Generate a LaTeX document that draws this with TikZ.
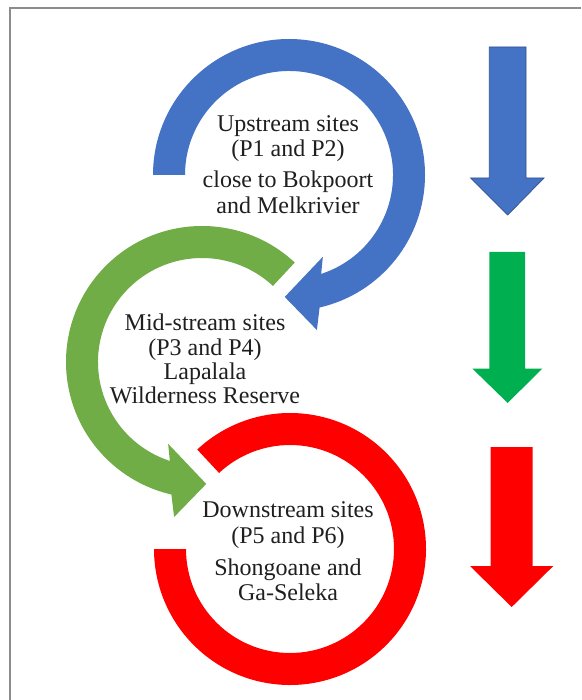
\documentclass[tikz,border=0pt]{standalone}
\usepackage{fontspec}
\setmainfont{Liberation Serif}
\usetikzlibrary{calc}
\definecolor{ringblue}{HTML}{4472C4}
\definecolor{ringgreen}{HTML}{70AD47}
\definecolor{ringred}{HTML}{FF0000}
\definecolor{arrblue}{HTML}{4472C4}
\definecolor{arrblueline}{HTML}{2F528F}
\definecolor{arrgreen}{HTML}{00B050}
\definecolor{arrred}{HTML}{FF0000}
\definecolor{framegray}{HTML}{8C8C8C}
\definecolor{txt}{HTML}{1F1F1F}
\tikzset{
  lbl/.style={anchor=base, inner sep=0pt, text=txt, font=\fontsize{24}{26}\selectfont},
  frameline/.style={draw=framegray, line width=1.3pt},
}
\begin{document}
\begin{tikzpicture}[x=1pt,y=1pt]
\useasboundingbox (0,0) rectangle (581,-700);
\fill[white] (0,0) rectangle (581,-700);
\draw[frameline] (581,-8) -- (10,-8) -- (10,-700);

% centres of the three rings
\coordinate (B) at (289,-175);
\coordinate (G) at (202,-362);
\coordinate (R) at (290,-549);

% red ring (no head)
\fill[ringred] ($(R)+(133:136)$) arc[start angle=133, end angle=-180, radius=136]
  -- ($(R)+(-180:104)$) arc[start angle=-180, end angle=133, radius=104] -- cycle;

% green circular arrow
\fill[ringgreen] ($(G)+(47:136)$) arc[start angle=47, end angle=257, radius=136]
  -- ($(G)+(259.8:157.5)$) -- ($(G)+(272:122)$) -- ($(G)+(247.5:88.5)$)
  -- ($(G)+(252:104)$) arc[start angle=252, end angle=47, radius=104] -- cycle;

% blue circular arrow
\fill[ringblue] ($(B)+(180:136)$) arc[start angle=180, end angle=-77, radius=136]
  -- ($(B)+(-79.8:157.5)$) -- ($(B)+(-92:122)$) -- ($(B)+(-67.5:88.5)$)
  -- ($(B)+(-72:104)$) arc[start angle=-72, end angle=180, radius=104] -- cycle;

% right-hand block arrows
\filldraw[fill=arrblue, draw=arrblueline, line width=0.7pt]
  (489.3,-47) -- (526,-47) -- (526,-178) -- (544,-178) -- (507.7,-215)
  -- (470.7,-178) -- (489.3,-178) -- cycle;
\fill[arrgreen]
  (489.3,-252) -- (525,-252) -- (525,-368.5) -- (542.3,-368.5) -- (507.7,-403)
  -- (472.3,-368.5) -- (489.3,-368.5) -- cycle;
\fill[arrred]
  (490.7,-447) -- (532.7,-447) -- (532.7,-566) -- (553.3,-566) -- (511.7,-607)
  -- (470,-566) -- (490.7,-566) -- cycle;

% texts
\node[lbl] (u1) at (288,-132) {Upstream sites};
\node[lbl] (u2) at (288,-157) {(P1 and P2)};
\node[lbl] (u3) at (288,-188) {close to Bokpoort};
\node[lbl] (u4) at (288,-214) {and Melkrivier};

\node[lbl] (m1) at (205,-330) {Mid-stream sites};
\node[lbl] (m2) at (205,-355) {(P3 and P4)};
\node[lbl] (m3) at (205,-379) {Lapalala};
\node[lbl] (m4) at (205,-403) {Wilderness Reserve};

\node[lbl] (d1) at (288,-517) {Downstream sites};
\node[lbl] (d2) at (288,-543) {(P5 and P6)};
\node[lbl] (d3) at (288,-575) {Shongoane and};
\node[lbl] (d4) at (288,-600) {Ga-Seleka};
\end{tikzpicture}
\end{document}
